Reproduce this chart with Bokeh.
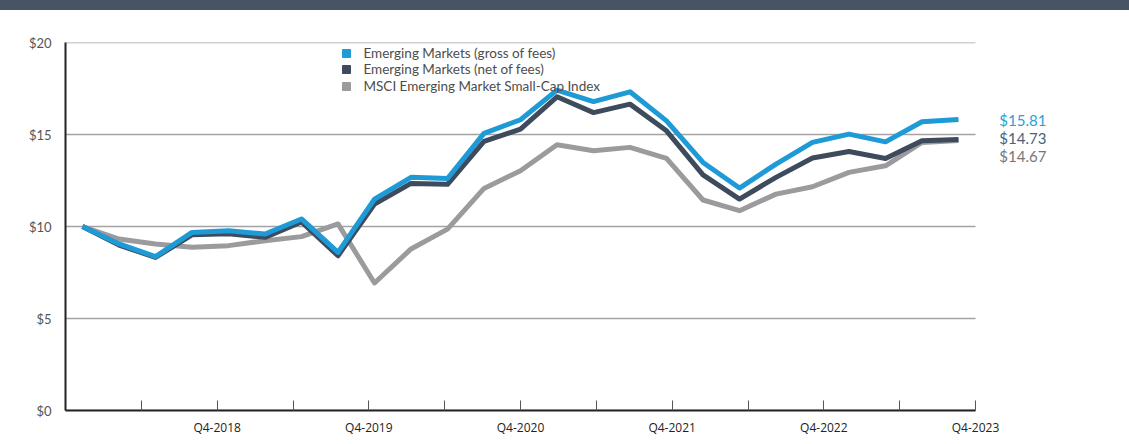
import numpy as np
from bokeh.plotting import figure
from bokeh.models import (Range1d, LinearAxis, FixedTicker, Legend, LegendItem,
                          Label, Div, ColumnDataSource)
from bokeh.layouts import column
from bokeh.embed import file_html
from bokeh.resources import INLINE

# ---------------- data ----------------
quarters = ["Q4-2017", "Q1-2018", "Q2-2018", "Q3-2018", "Q4-2018",
            "Q1-2019", "Q2-2019", "Q3-2019", "Q4-2019",
            "Q1-2020", "Q2-2020", "Q3-2020", "Q4-2020",
            "Q1-2021", "Q2-2021", "Q3-2021", "Q4-2021",
            "Q1-2022", "Q2-2022", "Q3-2022", "Q4-2022",
            "Q1-2023", "Q2-2023", "Q3-2023", "Q4-2023"]
gross = [10.00, 9.05, 8.36, 9.68, 9.77, 9.59, 10.41, 8.59, 11.49,
         12.67, 12.61, 15.06, 15.80, 17.41, 16.79, 17.32, 15.74,
         13.48, 12.09, 13.39, 14.57, 15.02, 14.60, 15.69, 15.81]
net = [10.00, 8.99, 8.32, 9.55, 9.60, 9.41, 10.25, 8.41, 11.22,
       12.34, 12.29, 14.62, 15.29, 17.05, 16.19, 16.65, 15.20,
       12.81, 11.49, 12.67, 13.72, 14.08, 13.70, 14.66, 14.73]
msci = [10.00, 9.32, 9.05, 8.87, 8.96, 9.23, 9.45, 10.14, 6.93,
        8.78, 9.86, 12.07, 13.03, 14.44, 14.12, 14.30, 13.70,
        11.44, 10.86, 11.76, 12.16, 12.94, 13.30, 14.57, 14.67]
series_names = ["Emerging Markets (gross of fees)",
                "Emerging Markets (net of fees)",
                "MSCI Emerging Market Small-Cap Index"]
y_ticks = [0, 5, 10, 15, 20]
y_tick_labels = ["$0", "$5", "$10", "$15", "$20"]
x_tick_labels = ["Q4-2018", "Q4-2019", "Q4-2020", "Q4-2021", "Q4-2022", "Q4-2023"]

# ---------------- style / layout ----------------
C_GROSS = "#1e9ad6"
C_NET = "#3e4b5c"
C_MSCI = "#9b9b9d"
LBL_COLORS = ["#2a9fd8", "#48627c", "#767676"]
FONT = "Lato"

W, H_BAND, H = 1129, 10, 434
LEFT, PLOT_RIGHT = 65, 975          # page px of plotted area
PAD = 0.466                          # half-slot padding in quarter units
n = len(quarters)
x_lo, x_hi = -PAD, n - 1 + PAD
px_per_q = (PLOT_RIGHT - LEFT) / (x_hi - x_lo)
x_frame_hi = x_hi + (W - PLOT_RIGHT) / px_per_q
nseg = 2 * len(x_tick_labels)
seg_frame_hi = nseg + (W - PLOT_RIGHT) * nseg / (PLOT_RIGHT - LEFT)

idx = np.arange(n)
src = ColumnDataSource(dict(i=idx, q=quarters, gross=gross, net=net, msci=msci))

p = figure(width=W, height=H,
           x_range=Range1d(x_lo, x_frame_hi),
           y_range=Range1d(0, 20),
           x_axis_type=None, y_axis_type=None,
           toolbar_location=None, output_backend="svg",
           min_border_left=LEFT, min_border_right=0,
           min_border_top=32, min_border_bottom=34,
           outline_line_color=None, background_fill_color="white",
           border_fill_color="white")

# horizontal grid lines limited to plotted area
p.segment(x0=[x_lo] * len(y_ticks), x1=[x_hi] * len(y_ticks), y0=y_ticks, y1=y_ticks,
          line_color="#a3a3a3", line_width=1.3)

# y axis
yax = LinearAxis(ticker=FixedTicker(ticks=y_ticks),
                 major_label_overrides={t: l for t, l in zip(y_ticks, y_tick_labels)},
                 major_tick_out=0, major_tick_in=0, minor_tick_out=0, minor_tick_in=0,
                 axis_line_color="#222222", axis_line_width=2,
                 major_label_standoff=14,
                 major_label_text_font=FONT, major_label_text_font_size="13px",
                 major_label_text_color="#555555",
                 major_label_text_baseline="bottom")
p.add_layout(yax, "left")

# x axis (12 half-year segments)
p.extra_x_ranges = {"seg": Range1d(0, seg_frame_hi)}
xt = list(range(0, nseg + 1))
overrides = {t: "" for t in xt}
for k, lab in enumerate(x_tick_labels):
    overrides[2 * (k + 1)] = lab
xax = LinearAxis(x_range_name="seg", ticker=FixedTicker(ticks=xt), bounds=(0, nseg),
                 major_label_overrides=overrides,
                 major_tick_in=10, major_tick_out=0, minor_tick_in=0, minor_tick_out=0,
                 major_tick_line_color="#555555", major_tick_line_width=1,
                 axis_line_color="#222222", axis_line_width=2,
                 major_label_standoff=8,
                 major_label_text_font="Open Sans", major_label_text_font_size="12px",
                 major_label_text_color="#222222")
p.add_layout(xax, "below")

# lines
p.line("i", "msci", source=src, color=C_MSCI, line_width=5, line_join="round")
p.line("i", "net", source=src, color=C_NET, line_width=5, line_join="round")
p.line("i", "gross", source=src, color=C_GROSS, line_width=5, line_join="round")

# legend (square swatches), one row each
row_centers = [52.7, 69.3, 85.9]     # page px
for name, c, yc in zip(series_names, [C_GROSS, C_NET, C_MSCI], row_centers):
    r = p.scatter(x=[np.nan], y=[np.nan], marker="square", size=8, color=c)
    lg = Legend(items=[LegendItem(label=name, renderers=[r])],
                location=(270.5, 410 - yc - 10),
                glyph_width=20, glyph_height=20, label_height=20, label_standoff=8,
                padding=0, margin=0, border_line_alpha=0, background_fill_alpha=0,
                label_text_font=FONT, label_text_font_size="13.5px",
                label_text_color="#4d4d4d")
    p.add_layout(lg)

# end labels
last = [gross[-1], net[-1], msci[-1]]
label_y = [gross[-1], gross[-1] - 0.98, gross[-1] - 1.96]
for v, yy, c in zip(last, label_y, LBL_COLORS):
    p.add_layout(Label(x=n - 1 + 1.12, y=yy, text=f"${v:.2f}",
                       text_baseline="middle", text_align="left",
                       text_font=FONT, text_font_size="15px", text_color=c))

band = Div(width=W, height=H_BAND, margin=0,
           styles={"background-color": "#465465", "margin": "0", "padding": "0"})
layout = column(band, p, spacing=0, margin=0)

open("out.html", "w").write(file_html(layout, INLINE))
